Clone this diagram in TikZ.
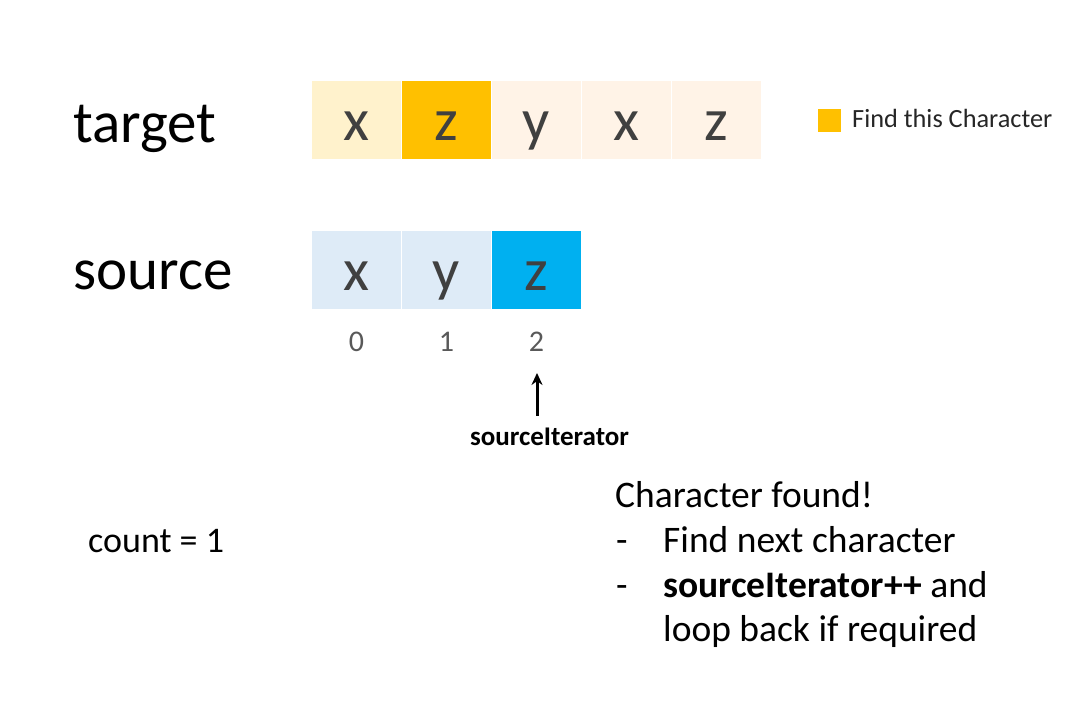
\documentclass[tikz,border=0pt]{standalone}
\usepackage{fontspec}
\setmainfont{Carlito}
\usetikzlibrary{arrows.meta,positioning}
\definecolor{target pale}{HTML}{FFF2CC}
\definecolor{target light}{HTML}{FFF3E7}
\definecolor{find color}{HTML}{FFC000}
\definecolor{source light}{HTML}{DEEBF7}
\definecolor{source hit}{HTML}{00B0F0}
\definecolor{letter gray}{HTML}{404040}
\definecolor{index gray}{HTML}{595959}
\tikzset{
    cell/.style={minimum width=89pt,minimum height=78pt,inner sep=0pt,outer sep=0pt,
        text=letter gray,font=\fontsize{60}{72}\selectfont,text height=42pt,text depth=0pt},
    row label/.style={anchor=base west,inner sep=0pt,font=\fontsize{59}{70}\selectfont},
    index/.style={anchor=base,inner sep=0pt,text=index gray,font=\fontsize{30}{36}\selectfont},
    note/.style={anchor=base west,inner sep=0pt,font=\fontsize{37.5}{45}\selectfont},
    arr/.style={draw=black,line width=3pt,-{Stealth[length=12pt,width=11pt]}},
}

\begin{document}
\begin{tikzpicture}[x=1pt,y=1pt]
        \useasboundingbox (0,0) rectangle (1073,720);
        \coordinate (idxrow) at (0,368);
        \coordinate (iterTail) at (537,304);

        % target string
        \node[row label] (target label) at (73,577) {target};
        \node[cell,fill=target pale] (t0) at (356.5,600) {x};
        \node[cell,fill=find color,right=1pt of t0] (t1) {z};
        \node[cell,fill=target light,right=1pt of t1] (t2) {y};
        \node[cell,fill=target light,right=1pt of t2] (t3) {x};
        \node[cell,fill=target light,right=1pt of t3] (t4) {z};

        % legend
        \node[fill=find color,minimum size=23pt,inner sep=0pt] (key) at (829.5,599.5) {};
        \node[anchor=base west,inner sep=0pt,text=black!85,font=\fontsize{26.3}{32}\selectfont]
            (key label) at (852,592) {Find this Character};

        % source string
        \node[row label] (source label) at (73,430) {source};
        \node[cell,fill=source light] (s0) at (356.5,450) {x};
        \node[cell,fill=source light,right=1pt of s0] (s1) {y};
        \node[cell,fill=source hit,right=1pt of s1] (s2) {z};
        \node[index] (i0) at (s0 |- idxrow) {0};
        \node[index] (i1) at (s1 |- idxrow) {1};
        \node[index] (i2) at (s2 |- idxrow) {2};

        \node[inner sep=0pt,font=\fontsize{27}{32}\selectfont\bfseries] (iter) at (549.5,283) {sourceIterator};
        \path[arr] (iterTail) -- ++(0,43);

        \node[note,font=\fontsize{36}{43}\selectfont] (count) at (88,167) {count = 1};

        % result
        \node[note] (found) at (615,212) {Character found!};
        \node[note] (dashA) at (616,167) {-};
        \node[note] (stepA) at (663,167) {Find next character};
        \node[note] (dashB) at (616,122) {-};
        \node[note] (stepB) at (663,122) {\textbf{sourceIterator++} and};
        \node[note] (stepC) at (663,78) {loop back if required};
    \end{tikzpicture}
\end{document}
